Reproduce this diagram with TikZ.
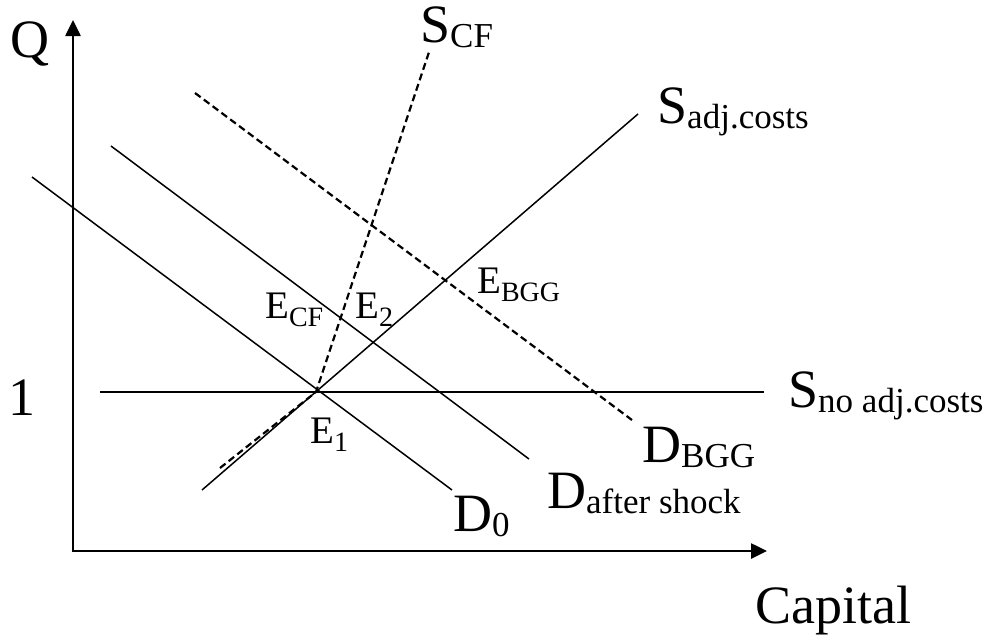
\documentclass[tikz,border=0pt]{standalone}
\usepackage{fontspec}
\setmainfont{Liberation Serif}
\usetikzlibrary{arrows.meta, positioning}

% curve labels and equilibrium labels with a lowered subscript
\newcommand{\curvelab}[2]{{\fontsize{54}{60}\selectfont #1}\raisebox{-5pt}{\fontsize{35}{40}\selectfont #2}}
\newcommand{\eqlab}[2]{{\fontsize{39}{44}\selectfont #1}\raisebox{-8pt}{\fontsize{28}{32}\selectfont #2}}

\begin{document}
\begin{tikzpicture}[x=1pt, y=-1pt,
  axis/.style={line width=2.6pt, -{Triangle[length=16pt,width=15pt]}},
  curve/.style={line width=1.5pt},
  cfline/.style={line width=2.2pt, dash pattern=on 7pt off 4pt},
  lab/.style={anchor=base west, inner sep=0pt, font=\fontsize{54}{60}\selectfont},
]
  \useasboundingbox (0,0) rectangle (992,638);

  % ═══ Axes ═══════════════════════════════════════════
  \coordinate (orig) at (73,551);
  \coordinate (qtop) at (73,20);
  \coordinate (ktop) at (767,551);
  \draw[axis] ([yshift=1.3pt]orig) -- (qtop);
  \draw[axis] ([xshift=-1.3pt]orig) -- (ktop);

  \node[lab] (q_lab)   at (10,57)   {Q};
  \node[lab] (one_lab) at (8,415)   {1};
  \node[lab] (k_lab)   at (755,623) {Capital};

  % ═══ Curve end points ═══════════════════════════════
  \coordinate (e1)      at (316,392);
  \coordinate (sno_a)   at (100,392);
  \coordinate (sno_b)   at (764,392);
  \coordinate (sadj_a)  at (202,490);
  \coordinate (sadj_b)  at (638,114);
  \coordinate (d0_a)    at (32,177);
  \coordinate (d0_b)    at (452,490);
  \coordinate (dafter_a) at (111,146);
  \coordinate (dafter_b) at (529,459);
  \coordinate (dbgg_a)  at (195,93);
  \coordinate (dbgg_b)  at (632,420);
  \coordinate (scf_a)   at (220,468);
  \coordinate (scf_b)   at (429,52);

  % Supply and demand
  \draw[curve] (sno_a) -- (sno_b);
  \draw[curve] (sadj_a) -- (sadj_b);
  \draw[curve] (d0_a) -- (d0_b);
  \draw[curve] (dafter_a) -- (dafter_b);
  \draw[cfline] (dbgg_a) -- (dbgg_b);
  \draw[cfline] (scf_a) -- (e1) -- (scf_b);

  % ═══ Curve labels ═══════════════════════════════════
  \node[lab] (scf_lab)    at (420,42)  {\curvelab{S}{CF}};
  \node[lab] (sadj_lab)   at (657,123) {\curvelab{S}{adj.costs}};
  \node[lab] (sno_lab)    at (788,407) {\curvelab{S}{no adj.costs}};
  \node[lab] (dbgg_lab)   at (642,462) {\curvelab{D}{BGG}};
  \node[lab] (dafter_lab) at (547,508) {\curvelab{D}{after shock}};
  \node[lab] (d0_lab)     at (453,531) {\curvelab{D}{0}};

  % ═══ Equilibria ═════════════════════════════════════
  \node[lab] (ecf_lab)  at (265,318) {\eqlab{E}{CF}};
  \node[lab] (e2_lab)   at (355,318) {\eqlab{E}{2}};
  \node[lab] (ebgg_lab) at (477,293) {\eqlab{E}{BGG}};
  \node[lab] (e1_lab)   at (310,443) {\eqlab{E}{1}};
\end{tikzpicture}
\end{document}
